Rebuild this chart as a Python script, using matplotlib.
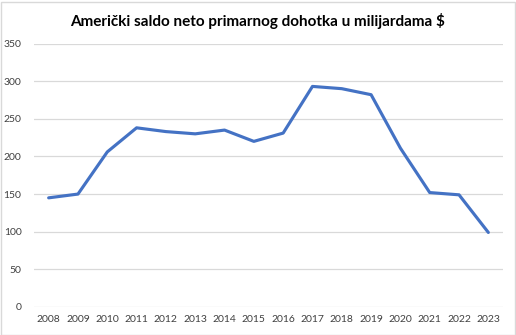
import numpy as np
import matplotlib
matplotlib.use('Agg')
from matplotlib import pyplot as plt
from matplotlib.patches import Rectangle

plt.rcParams['font.family'] = ['Lato', 'DejaVu Sans']

# net primary income balance, billions of USD
years = ['2008', '2009', '2010', '2011', '2012', '2013', '2014', '2015',
         '2016', '2017', '2018', '2019', '2020', '2021', '2022', '2023']
balance = [145, 150, 206, 238, 233, 230, 235, 220,
           231, 293, 290, 282, 211, 152, 149, 99]
yticks = [0, 50, 100, 150, 200, 250, 300, 350]

fig = plt.figure(figsize=(5.16, 3.35), dpi=100)
ax = fig.add_axes([34/516, 28/335, 469/516, 263.5/335])

x = np.arange(len(years))
ax.plot(x, balance, color='#4472C4', lw=2.25, solid_joinstyle='round', solid_capstyle='round')

ax.set_xlim(-0.5, len(years) - 0.5)
ax.set_ylim(0, 350)
ax.set_yticks(yticks)
ax.set_yticklabels([str(v) for v in yticks], fontsize=7.5, color='#404040')
ax.set_xticks(x)
ax.set_xticklabels(years, fontsize=7.5, color='#404040')
ax.grid(axis='y', color='#D9D9D9', lw=0.9)
ax.set_axisbelow(True)
for s in ax.spines.values():
    s.set_visible(False)
ax.tick_params(length=0, pad=6)
ax.tick_params(axis='y', pad=9)

fig.text(0.5, 1 - 21/335, 'Američki saldo neto primarnog dohotka u milijardama $',
         ha='center', va='center', fontsize=11, fontweight='bold', color='black')

# chart border
fig.patches.append(Rectangle((0.5/516, 0.5/335), 514/516, 333/335, transform=fig.transFigure,
                             fill=False, edgecolor='#D9D9D9', lw=1))

fig.savefig('out.png', dpi=100)
